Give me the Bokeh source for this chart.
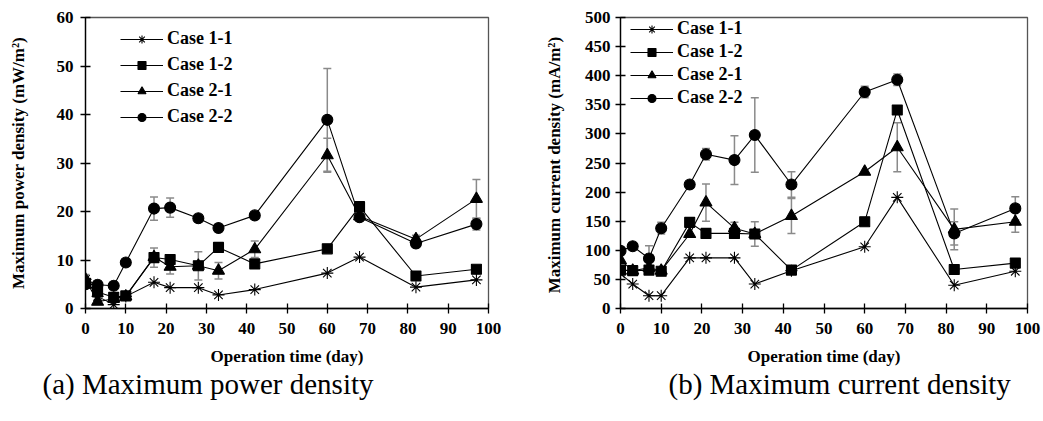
from bokeh.plotting import figure
from bokeh.models import (Legend, LegendItem, Whisker, ColumnDataSource, TeeHead, Title,
                          FixedTicker, Range1d)
from bokeh.layouts import row
from bokeh.embed import file_html
from bokeh.resources import INLINE

FONT = "Liberation Serif"

# ---------------- data ----------------
days = [0, 3, 7, 10, 17, 21, 28, 33, 42, 60, 68, 82, 97]
case_names = ["Case 1-1", "Case 1-2", "Case 2-1", "Case 2-2"]

# (a) Maximum power density (mW/m2)
power_c11 = [6.0, 2.5, 0.8, 2.5, 5.4, 4.3, 4.3, 2.8, 3.9, 7.3, 10.6, 4.4, 5.9]
power_c12 = [5.2, 3.4, 2.3, 2.6, 10.5, 10.1, 8.8, 12.6, 9.2, 12.3, 21.0, 6.7, 8.1]
power_c21 = [6.0, 1.4, 2.0, 2.5, 10.6, 8.6, 8.8, 7.8, 12.2, 31.6, 19.0, 14.3, 22.6]
power_c22 = [5.0, 4.9, 4.7, 9.5, 20.6, 20.8, 18.6, 16.6, 19.2, 38.9, 18.8, 13.4, 17.4]
power_err_c11 = [0, 0, 0, 0, 0, 0, 0, 0, 0, 0, 0, 0, 0]
power_err_c12 = [0, 0, 0, 0, 2.0, 0, 2.9, 0, 0, 0, 0, 0, 0]
power_err_c21 = [1.0, 0, 0, 0, 0, 1.5, 0, 1.7, 1.7, 3.5, 0, 0.8, 4.0]
power_err_c22 = [0, 0, 0, 0, 2.4, 2.0, 0, 0, 0, 10.6, 0, 0.8, 1.2]

# (b) Maximum current density (mA/m2)
current_c11 = [60, 42, 22, 22, 87, 87, 87, 42, 65, 106, 191, 40, 64]
current_c12 = [66, 65, 66, 64, 148, 129, 129, 128, 66, 149, 341, 67, 78]
current_c21 = [83, 65, 70, 65, 128, 182, 138, 128, 159, 235, 277, 136, 149]
current_c22 = [99, 107, 86, 138, 213, 265, 255, 298, 213, 372, 393, 129, 172]
current_err_c11 = [0, 0, 0, 0, 0, 0, 0, 0, 0, 0, 0, 0, 0]
current_err_c12 = [0, 0, 0, 0, 0, 0, 0, 21, 0, 0, 0, 0, 0]
current_err_c21 = [0, 0, 0, 0, 0, 32, 10, 0, 30, 0, 42, 35, 18]
current_err_c22 = [0, 0, 22, 10, 0, 10, 42, 64, 22, 10, 10, 20, 20]

x_ticks = [0, 10, 20, 30, 40, 50, 60, 70, 80, 90, 100]
power_ticks = [0, 10, 20, 30, 40, 50, 60]
current_ticks = [0, 50, 100, 150, 200, 250, 300, 350, 400, 450, 500]

MARKERS = [("asterisk", 12), ("square", 10), ("triangle", 12), ("circle", 11)]
ERR_COLOR = "#8a8a8a"


def style_axis(ax, ticks):
    ax.ticker = FixedTicker(ticks=ticks)
    ax.axis_line_color = "black"
    ax.axis_line_width = 1.3
    ax.major_tick_line_color = "black"
    ax.major_tick_line_width = 1.3
    ax.major_tick_in = 5
    ax.major_tick_out = 5
    ax.minor_tick_line_color = None
    ax.major_label_text_font = FONT
    ax.major_label_text_font_style = "bold"
    ax.major_label_text_font_size = "17px"
    ax.major_label_text_color = "black"
    ax.axis_label_text_font = FONT
    ax.axis_label_text_font_style = "bold"
    ax.axis_label_text_font_size = "17px"
    ax.axis_label_text_color = "black"


def build(width, height, y_end, yticks, border_l, border_r, border_t, border_b,
          ylabel, ylabel_standoff, ylab_standoff, series, errors, legend_loc,
          legend_spacing, legend_font, caption, caption_offset):
    p = figure(width=width, height=height,
               x_range=Range1d(0, 100), y_range=Range1d(0, y_end),
               output_backend="svg", toolbar_location=None,
               min_border_left=border_l, min_border_right=border_r,
               min_border_top=border_t, min_border_bottom=border_b)
    p.outline_line_color = "#555555"
    p.outline_line_width = 1.3
    p.grid.visible = False
    p.background_fill_color = "white"
    p.border_fill_color = "white"

    bx = p.below[0]
    ly = p.left[0]
    style_axis(bx, x_ticks)
    style_axis(ly, yticks)
    bx.axis_label = "Operation time (day)"
    bx.major_label_standoff = 9
    bx.axis_label_standoff = 10
    ly.axis_label = ylabel
    ly.major_label_standoff = ylab_standoff
    ly.axis_label_standoff = ylabel_standoff

    items = []
    for name, vals, errs, (marker, size) in zip(case_names, series, errors, MARKERS):
        ex = [d for d, e in zip(days, errs) if e > 0]
        ev = [v for v, e in zip(vals, errs) if e > 0]
        ee = [e for e in errs if e > 0]
        if ex:
            esrc = ColumnDataSource(dict(x=ex,
                                         upper=[v + e for v, e in zip(ev, ee)],
                                         lower=[v - e for v, e in zip(ev, ee)]))
            w = Whisker(source=esrc, base="x", upper="upper", lower="lower",
                        line_color=ERR_COLOR, line_width=1.5,
                        upper_head=TeeHead(size=8, line_color=ERR_COLOR, line_width=1.5),
                        lower_head=TeeHead(size=8, line_color=ERR_COLOR, line_width=1.5))
            p.add_layout(w)
        src = ColumnDataSource(dict(x=days, y=vals))
        lr = p.line("x", "y", source=src, line_color="black", line_width=1.1)
        sr = p.scatter("x", "y", source=src, marker=marker, size=size,
                       fill_color="black", line_color="black", line_width=1.1)
        items.append(LegendItem(label=name, renderers=[lr, sr]))

    leg = Legend(items=items, location=legend_loc, orientation="vertical",
                 glyph_width=43, glyph_height=20, label_height=20,
                 spacing=legend_spacing, padding=0, margin=0, label_standoff=4,
                 background_fill_alpha=0, border_line_color=None,
                 label_text_font=FONT, label_text_font_style="bold",
                 label_text_font_size=legend_font, label_text_color="black")
    p.add_layout(leg)

    cap = Title(text=caption, align="left", offset=caption_offset, standoff=-6,
                text_font=FONT, text_font_style="normal", text_font_size="29px",
                text_color="black")
    p.add_layout(cap, "below")
    return p


p1 = build(540, 421, 60, power_ticks, 85, 52, 17, 113,
           "Maximum power density (mW/m\u00b2)", 26, 7,
           [power_c11, power_c12, power_c21, power_c22],
           [power_err_c11, power_err_c12, power_err_c21, power_err_c22],
           (35, 181), 5, "18px",
           "(a) Maximum power density", -43)

p2 = build(503, 421, 500, current_ticks, 80, 16, 17, 109,
           "Maximum current  density (mA/m\u00b2)", 18, 5,
           [current_c11, current_c12, current_c21, current_c22],
           [current_err_c11, current_err_c12, current_err_c21, current_err_c22],
           (10, 200), 2, "18px",
           "(b) Maximum current density", 48)

layout = row(p1, p2, spacing=0)
open("out.html", "w").write(file_html(layout, INLINE))
